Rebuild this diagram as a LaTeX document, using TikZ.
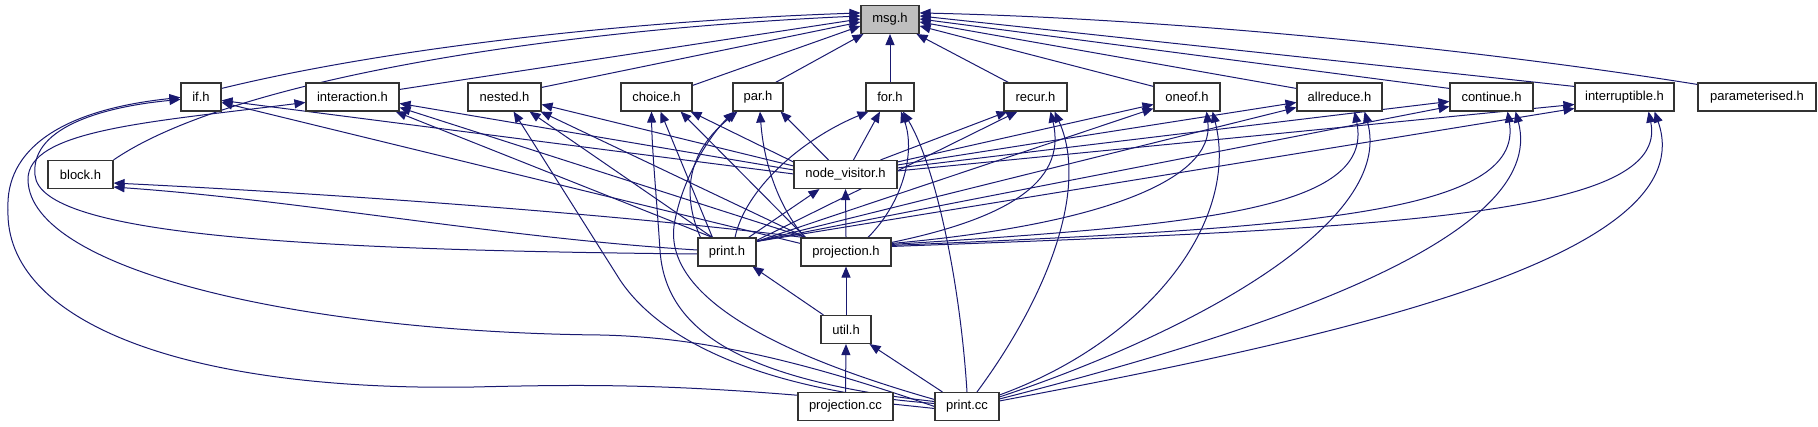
\documentclass[tikz,border=0pt]{standalone}
\usepackage{fontspec}
\setmainfont{Liberation Sans}
\usetikzlibrary{arrows.meta}
\definecolor{edgec}{HTML}{191970}
\definecolor{msggray}{HTML}{BFBFBF}
\pgfdeclarelayer{background}
\pgfsetlayers{background,main}
\tikzset{
  box/.style={draw=black!80, fill=white, line width=1.1pt, minimum height=28pt, inner sep=0pt,
    font=\fontsize{13}{14}\selectfont, text=black},
  edge/.style={draw=edgec, line width=1pt, -{Triangle[length=11pt,width=9pt]}},
}
\begin{document}
\begin{tikzpicture}[x=1pt,y=-1pt]
\path[use as bounding box] (0,0) rectangle (1818,427);
\node[box, fill=msggray, minimum width=58pt] (msg) at (890,19.5) {msg.h};
\node[box, minimum width=40pt] (ifh) at (201,97) {if.h};
\node[box, minimum width=93pt] (interaction) at (352.5,97) {interaction.h};
\node[box, minimum width=73pt] (nested) at (504.5,97) {nested.h};
\node[box, minimum width=71pt] (choice) at (656.5,97) {choice.h};
\node[box, minimum width=50pt] (par) at (758,97) {par.h};
\node[box, minimum width=48pt] (forh) at (890,97) {for.h};
\node[box, minimum width=63pt] (recur) at (1035.5,97) {recur.h};
\node[box, minimum width=66pt] (oneof) at (1187,97) {oneof.h};
\node[box, minimum width=85pt] (allreduce) at (1339.5,97) {allreduce.h};
\node[box, minimum width=83pt] (continueh) at (1491.5,97) {continue.h};
\node[box, minimum width=99pt] (interruptible) at (1624.5,97) {interruptible.h};
\node[box, minimum width=118pt] (param) at (1757,97) {parameterised.h};
\node[box, minimum width=65pt] (block) at (80.5,174.5) {block.h};
\node[box, minimum width=103pt] (nv) at (845.5,174.5) {node\_visitor.h};
\node[box, minimum width=58pt] (printh) at (727,252) {print.h};
\node[box, minimum width=90pt] (projh) at (846,252) {projection.h};
\node[box, minimum width=50pt] (util) at (846,329.5) {util.h};
\node[box, minimum width=95pt] (projcc) at (845.5,406.5) {projection.cc};
\node[box, minimum width=64pt] (printcc) at (967,406.5) {print.cc};
\begin{pgfonlayer}{background}
% includes of msg.h
\draw[edge] ([yshift=-6pt]ifh.north east) .. controls (400,45) and (650,20) .. ([yshift=-8pt]msg.north west);
\draw[edge] (block.north east) .. controls (230,80) and (550,30) .. ([yshift=-11pt]msg.north west);
\draw[edge] ([yshift=-7pt]interaction.north east) -- ([yshift=-14pt]msg.north west);
\draw[edge] ([yshift=-5pt]nested.north east) -- ([yshift=-17pt]msg.north west);
\draw[edge] ([yshift=-3pt]choice.north east) -- ([yshift=-21pt]msg.north west);
\draw[edge] ([xshift=-8pt]par.north east) -- ([xshift=3pt]msg.south west);
\draw[edge] (forh.north) -- (msg.south);
\draw[edge] ([xshift=5pt]recur.north west) -- ([xshift=-3pt]msg.south east);
\draw[edge] ([yshift=-4pt]oneof.north west) -- ([yshift=-21pt]msg.north east);
\draw[edge] ([yshift=-6pt]allreduce.north west) -- ([yshift=-17pt]msg.north east);
\draw[edge] ([yshift=-6pt]continueh.north west) -- ([yshift=-14pt]msg.north east);
\draw[edge] ([yshift=-4pt]interruptible.north west) -- ([yshift=-11pt]msg.north east);
\draw[edge] ([yshift=-2pt]param.north west) .. controls (1450,45) and (1150,18) .. ([yshift=-8pt]msg.north east);
% node_visitor.h
\draw[edge] ([yshift=-14pt]nv.north west) -- ([yshift=-18pt]ifh.north east);
\draw[edge] ([yshift=-10pt]nv.north west) -- ([yshift=-21pt]interaction.north east);
\draw[edge] ([yshift=-6pt]nv.north west) -- ([yshift=-22pt]nested.north east);
\draw[edge] ([yshift=-2pt]nv.north west) -- ([xshift=-2pt]choice.south east);
\draw[edge] ([xshift=-17pt]nv.north) -- ([xshift=-3pt]par.south east);
\draw[edge] ([xshift=8pt]nv.north) -- ([xshift=-10pt]forh.south);
\draw[edge] ([xshift=35pt]nv.north) -- ([xshift=4pt]recur.south west);
\draw[edge] ([yshift=-2pt]nv.north east) -- ([yshift=-22pt]oneof.north west);
\draw[edge] ([yshift=-5pt]nv.north east) -- ([yshift=-20pt]allreduce.north west);
\draw[edge] ([yshift=-8pt]nv.north east) -- ([yshift=-19pt]continueh.north west);
\draw[edge] ([yshift=-11pt]nv.north east) -- ([yshift=-22pt]interruptible.north west);
% print.h
\draw[edge] ([xshift=-8pt]printh.north east) -- ([xshift=-26pt]nv.south);
\draw[edge] ([yshift=2pt]printh.west) .. controls (500,238) and (300,200) .. ([yshift=2pt]block.south east);
\draw[edge] ([yshift=-2pt]printh.west) .. controls (300,250) and (40,235) .. (35,175) .. controls (30,125) and (110,106) .. ([yshift=-17pt]ifh.north west);
\draw[edge] ([xshift=15pt]printh.north west) -- ([xshift=-4pt]interaction.south east);
\draw[edge] ([xshift=15pt]printh.north west) -- ([xshift=-12pt]nested.south east);
\draw[edge] ([xshift=15pt]printh.north west) -- ([xshift=4pt]choice.south);
\draw[edge] ([xshift=3pt]printh.north west) .. controls (680,190) and (690,150) .. ([xshift=5pt]par.south west);
\draw[edge] ([xshift=8pt]printh.north) .. controls (745,190) and (800,140) .. ([xshift=3pt]forh.south west);
\draw[edge] ([yshift=-3pt]printh.north east) -- ([xshift=14pt]recur.south west);
\draw[edge] ([yshift=-4pt]printh.north east) -- ([yshift=-26pt]oneof.north west);
\draw[edge] ([yshift=-4pt]printh.north east) -- ([yshift=-25pt]allreduce.north west);
\draw[edge] ([yshift=-4pt]printh.north east) -- ([yshift=-24pt]continueh.north west);
\draw[edge] ([yshift=-4pt]printh.north east) -- ([yshift=-26pt]interruptible.north west);
% projection.h
\draw[edge] (projh.north) -- (nv.south);
\draw[edge] ([xshift=3pt]projh.north west) .. controls (600,212) and (300,192) .. ([yshift=6pt]block.south east);
\draw[edge] ([yshift=-6pt]projh.north west) -- ([yshift=-20pt]ifh.north east);
\draw[edge] ([xshift=5pt]projh.north west) -- ([yshift=-25pt]interaction.north east);
\draw[edge] ([xshift=5pt]projh.north west) -- ([xshift=-1pt]nested.south east);
\draw[edge] ([xshift=5pt]projh.north west) -- ([xshift=-12pt]choice.south east);
\draw[edge] ([xshift=5pt]projh.north west) .. controls (790,222) and (765,180) .. ([xshift=2pt]par.south);
\draw[edge] ([xshift=22pt]projh.north) .. controls (905,200) and (915,150) .. ([xshift=11pt]forh.south);
\draw[edge] ([yshift=-5pt]projh.north east) .. controls (1000,220) and (1068,185) .. ([xshift=-17pt]recur.south east);
\draw[edge] ([yshift=-6pt]projh.north east) .. controls (1100,225) and (1215,180) .. ([xshift=-14pt]oneof.south east);
\draw[edge] ([yshift=-7pt]projh.north east) .. controls (1200,225) and (1375,210) .. ([xshift=-28pt]allreduce.south east);
\draw[edge] ([yshift=-8pt]projh.north east) .. controls (1300,228) and (1525,215) .. ([xshift=-26pt]continueh.south east);
\draw[edge] ([yshift=-9pt]projh.north east) .. controls (1400,228) and (1670,215) .. ([xshift=-26pt]interruptible.south east);
% util.h, projection.cc
\draw[edge] ([xshift=3pt]util.north west) -- ([xshift=-4pt]printh.south east);
\draw[edge] (util.north) -- (projh.south);
\draw[edge] (projcc.north) -- (util.south);
% print.cc
\draw[edge] ([xshift=8pt]printcc.north west) -- ([xshift=-2pt]util.south east);
\draw[edge] ([yshift=-2pt]printcc.west) .. controls (700,383) and (600,384) .. (474,387) .. controls (180,392) and (5,320) .. (8,210) .. controls (5,150) and (60,110) .. ([yshift=-15pt]ifh.north west);
\draw[edge] (printcc.west) .. controls (800,360) and (700,337) .. (600,335) .. controls (300,332) and (30,270) .. (28,180) .. controls (27,130) and (150,122) .. ([yshift=-20pt]interaction.north west);
\draw[edge] ([yshift=3pt]printcc.west) .. controls (760,390) and (660,340) .. (620,280) -- ([xshift=-28pt]nested.south east);
\draw[edge] ([yshift=5pt]printcc.west) .. controls (740,380) and (665,330) .. (660,250) .. controls (656,190) and (652,150) .. ([xshift=-5pt]choice.south);
\draw[edge] ([yshift=7pt]printcc.west) .. controls (760,350) and (660,290) .. (675,220) .. controls (685,170) and (715,130) .. ([xshift=2pt]par.south west);
\draw[edge] (printcc.north) .. controls (960,280) and (935,165) .. ([xshift=13pt]forh.south);
\draw[edge] ([xshift=10pt]printcc.north) .. controls (1045,300) and (1090,190) .. ([xshift=-13pt]recur.south east);
\draw[edge] ([yshift=-3pt]printcc.north east) .. controls (1150,340) and (1240,220) .. ([xshift=-8pt]oneof.south east);
\draw[edge] ([yshift=-5pt]printcc.north east) .. controls (1200,330) and (1395,220) .. ([xshift=-18pt]allreduce.south east);
\draw[edge] ([yshift=-7pt]printcc.north east) .. controls (1250,335) and (1550,240) .. ([xshift=-18pt]continueh.south east);
\draw[edge] ([yshift=-9pt]printcc.north east) .. controls (1350,335) and (1705,255) .. ([xshift=-20pt]interruptible.south east);
\end{pgfonlayer}
\end{tikzpicture}
\end{document}
